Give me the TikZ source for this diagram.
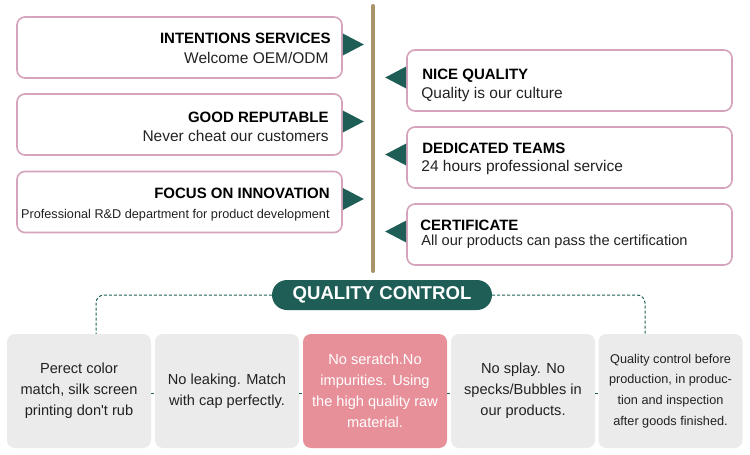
\documentclass[tikz,border=0pt]{standalone}
\usepackage{fontspec}
\setmainfont{Liberation Sans}
\usetikzlibrary{calc}
\definecolor{qteal}{HTML}{1E5E56}
\definecolor{cardpink}{HTML}{D6A3BC}
\definecolor{poletan}{HTML}{A8936B}
\definecolor{boxgray}{HTML}{EBEBEB}
\definecolor{boxpink}{HTML}{E8909A}
\definecolor{txtdark}{HTML}{222222}
\begin{document}
\begin{tikzpicture}[x=1pt,y=-1pt,
  card/.style={draw=cardpink, line width=1.6pt, rounded corners=8pt, fill=white,
    minimum width=325pt, minimum height=61pt, inner sep=0pt},
  ttl/.style={inner sep=0pt, text=black, font=\fontsize{15}{17}\selectfont\bfseries},
  sub/.style={inner sep=0pt, text=txtdark, font=\fontsize{15.5}{17}\selectfont},
  tri/.style={fill=qteal},
  pill/.style={fill=qteal, rounded corners=15pt, minimum width=220pt, minimum height=30pt,
    inner sep=0pt, text=white, font=\fontsize{18.6}{20}\selectfont\bfseries},
  qbox/.style={fill=boxgray, rounded corners=8pt, minimum width=144pt, minimum height=114pt,
    inner sep=0pt, align=center, text=txtdark, font=\fontsize{14.6}{21}\selectfont},
  qdash/.style={draw=qteal, line width=1pt, dash pattern=on 3pt off 2pt},
]
\useasboundingbox[fill=white] (0,0) rectangle (750,455);

% central pole
\coordinate (poletop) at (373,6);
\coordinate (polebot) at (373,271);
\draw[line width=4pt, poletan, line cap=round] (poletop) -- (polebot);

% left cards
\node[card] (L1) at (179.5,47.5) {};
\node[card] (L2) at (179.5,124.5) {};
\node[card] (L3) at (179.5,202) {};
\foreach \n in {L1,L2,L3}{
  \fill[tri] ($(\n.east)+(0,-14)$) -- ($(\n.east)+(21,-3)$) -- ($(\n.east)+(0,8)$) -- cycle;
}
\node[ttl, anchor=east] (L1t) at ($(L1.east)+(-12,-9)$) {INTENTIONS SERVICES};
\node[sub, anchor=east] (L1s) at ($(L1.east)+(-14,10.5)$) {Welcome OEM/ODM};
\node[ttl, anchor=east] (L2t) at ($(L2.east)+(-14,-7.5)$) {GOOD REPUTABLE};
\node[sub, anchor=east] (L2s) at ($(L2.east)+(-14,11.5)$) {Never cheat our customers};
\node[ttl, anchor=east] (L3t) at ($(L3.east)+(-13,-9)$) {FOCUS ON INNOVATION};
\node[sub, anchor=east, font=\fontsize{12.7}{15}\selectfont] (L3s) at ($(L3.east)+(-13,13)$) {Professional R\&D department for product development};

% right cards
\node[card] (R1) at (569.5,80.5) {};
\node[card] (R2) at (569.5,157.5) {};
\node[card] (R3) at (569.5,234.5) {};
\foreach \n in {R1,R2,R3}{
  \fill[tri] ($(\n.west)+(0,-14)$) -- ($(\n.west)+(-21,-3)$) -- ($(\n.west)+(0,8)$) -- cycle;
}
\node[ttl, anchor=west] (R1t) at ($(R1.west)+(16,-5)$) {NICE QUALITY};
\node[sub, anchor=west] (R1s) at ($(R1.west)+(15,14)$) {Quality is our culture};
\node[ttl, anchor=west] (R2t) at ($(R2.west)+(16,-9)$) {DEDICATED TEAMS};
\node[sub, anchor=west] (R2s) at ($(R2.west)+(15,10)$) {24 hours professional service};
\node[ttl, anchor=west] (R3t) at ($(R3.west)+(14,-9)$) {CERTIFICATE};
\node[sub, anchor=west, font=\fontsize{14.6}{17}\selectfont] (R3s) at ($(R3.west)+(15,7)$) {All our products can pass the certification};

% quality control
\node[pill] (QC) at (382,295) {QUALITY CONTROL};

\node[qbox] (B1) at (79,391) {Perect color\\match, silk screen\\printing don\textquotesingle t rub};
\node[qbox] (B2) at (227,391) {No leaking. Match\\with cap perfectly.};
\node[qbox, fill=boxpink, text=white] (B3) at (375,391) {No seratch.No\\impurities. Using\\the high quality raw\\material.};
\node[qbox] (B4) at (523,391) {No splay. No\\specks/Bubbles in\\our products.};
\node[qbox, font=\fontsize{12.7}{20.7}\selectfont] (B5) at (670.5,391) {Quality control before\\production, in produc-\\tion and inspection\\after goods finished.};

\draw[qdash, rounded corners=8pt] (QC.west) -| ([xshift=17pt]B1.north);
\draw[qdash, rounded corners=8pt] (QC.east) -| ([xshift=-25.5pt]B5.north);
\draw[qdash] ([yshift=-2pt]B1.east) -- ([yshift=-2pt]B2.west);
\draw[qdash] ([yshift=-2pt]B2.east) -- ([yshift=-2pt]B3.west);
\draw[qdash] ([yshift=-2pt]B3.east) -- ([yshift=-2pt]B4.west);
\draw[qdash] ([yshift=-2pt]B4.east) -- ([yshift=-2pt]B5.west);
\end{tikzpicture}
\end{document}
